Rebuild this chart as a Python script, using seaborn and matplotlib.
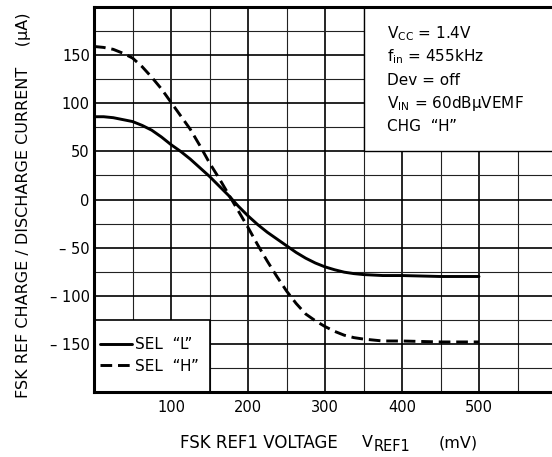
import matplotlib
matplotlib.use("Agg")
import matplotlib.pyplot as plt
import seaborn as sns
import pandas as pd
from matplotlib.patches import Rectangle
from matplotlib.ticker import FixedLocator

# ---- data ----
vref = [0, 12.5, 25, 37.5, 50, 62.5, 75, 87.5, 100, 112.5, 125, 137.5, 150, 162.5, 175, 187.5,
        200, 212.5, 225, 237.5, 250, 262.5, 275, 287.5, 300, 312.5, 325, 337.5, 350, 362.5,
        375, 400, 450, 500]
sel_l = [86, 86, 85, 83, 81, 77, 72, 65, 57, 50, 42, 33, 24, 14, 4, -7,
         -17, -26, -34, -41, -48, -55, -61, -66, -70, -73, -75.5, -77, -78, -78.5,
         -79, -79, -80, -80]
sel_h = [159, 158, 156, 152, 147, 138, 127, 115, 101, 87, 73, 56, 38, 22, 5, -12,
         -29, -47, -64, -80, -95, -108, -119, -126, -132, -137, -141, -143.5, -145, -146,
         -147, -147, -148, -148]
series_names = ['SEL  \u201cL\u201d', 'SEL  \u201cH\u201d']
x_ticks = [100, 200, 300, 400, 500]
x_ticklabels = ['100', '200', '300', '400', '500']
y_ticks = [150, 100, 50, 0, -50, -100, -150]
y_ticklabels = ['150', '100', '50', '0', '\u2013 50', '\u2013 100', '\u2013 150']
conditions = ['V$_{\\rm CC}$ = 1.4V', 'f$_{\\rm in}$ = 455kHz', 'Dev = off',
              'V$_{\\rm IN}$ = 60dB\u03bcVEMF', 'CHG  \u201cH\u201d']

df = pd.DataFrame({
    'x': vref * 2,
    'y': sel_l + sel_h,
    'series': [series_names[0]] * len(vref) + [series_names[1]] * len(vref),
})

sns.set_theme(style='white')
plt.rcParams['font.family'] = ['DejaVu Sans']
plt.rcParams['mathtext.fontset'] = 'dejavusans'
plt.rcParams['mathtext.default'] = 'rm'
plt.rcParams['text.color'] = 'black'
plt.rcParams['axes.labelcolor'] = 'black'

W, H = 552, 457
fig = plt.figure(figsize=(W / 100, H / 100), dpi=100)
ax = fig.add_axes([94 / W, 1 - 392 / H, (556 - 94) / W, (392 - 7) / H])

sns.lineplot(data=df, x='x', y='y', style='series', color='black',
             dashes={series_names[0]: '', series_names[1]: (4, 2)},
             linewidth=2.1, ax=ax, legend=False, zorder=3)

ax.set_xlim(0, 600)
ax.set_ylim(-200, 200)

# grid
ax.xaxis.set_minor_locator(FixedLocator([50, 150, 250, 350, 450, 550]))
ax.yaxis.set_minor_locator(FixedLocator([-175, -125, -75, -25, 25, 75, 125, 175]))
xt = [0] + x_ticks + [600]
ax.set_xticks(xt)
ax.set_xticklabels([''] + x_ticklabels + [''])
yt = [200] + y_ticks + [-200]
ax.set_yticks(yt)
ax.set_yticklabels([''] + y_ticklabels + [''])
ax.grid(True, which='major', color='black', linewidth=1.2)
ax.grid(True, which='minor', color='#222222', linewidth=0.8)
ax.set_axisbelow(True)

ax.tick_params(axis='both', which='both', length=0, labelsize=10.5, colors='black')
ax.tick_params(axis='x', pad=5.5)
ax.tick_params(axis='y', pad=3)

for s in ['left', 'bottom', 'top']:
    ax.spines[s].set_color('black')
    ax.spines[s].set_linewidth(2.2)
ax.spines['right'].set_visible(False)

# condition box
ax.add_patch(Rectangle((350, 50), 300, 160, facecolor='white', edgecolor='black',
                       linewidth=1.0, zorder=1.5))
ys = [172, 148, 124, 100, 76]
for t, yy in zip(conditions, ys):
    ax.text(381, yy, t, fontsize=11, va='center', ha='left', zorder=4)

# legend box
ax.add_patch(Rectangle((0, -200), 150, 75, facecolor='white', edgecolor='black',
                       linewidth=1.2, zorder=1.5))
handles = [plt.Line2D([], [], color='black', lw=2.1),
           plt.Line2D([], [], color='black', lw=2.1, dashes=(4, 2))]
leg = ax.legend(handles, series_names, loc='lower left', bbox_to_anchor=(0.003, 0.036),
                frameon=False, fontsize=11, handlelength=2.1, handletextpad=0.2,
                labelspacing=0.4, borderpad=0.3, borderaxespad=0)
leg.set_zorder(5)

# x axis label (pieces so the subscript keeps the reference's size)
ax.set_xlabel('')
fig.text(180 / W, 1 - 442.5 / H, 'FSK REF1 VOLTAGE', fontsize=12, ha='left', va='center')
fig.text(362 / W, 1 - 442.5 / H, 'V', fontsize=11.5, ha='left', va='center')
fig.text(374 / W, 1 - 446.5 / H, 'REF1', fontsize=10.5, ha='left', va='center')
fig.text(478 / W, 1 - 442.5 / H, '(mV)', fontsize=11.5, ha='right', va='center')

ax.set_ylabel('FSK REF CHARGE / DISCHARGE CURRENT    (\u03bcA)', fontsize=11.5)
ax.yaxis.set_label_coords(-(94 - 31) / 462, (392 - 205) / 385)

fig.savefig('out.png', dpi=100)
